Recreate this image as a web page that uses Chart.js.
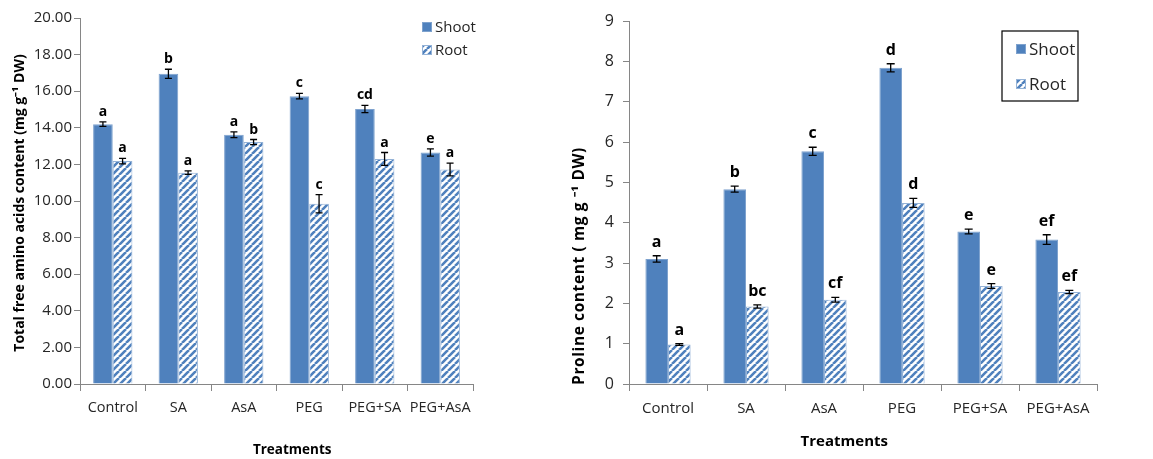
<!DOCTYPE html>
<html>
<head>
<meta charset="utf-8">
<script src="https://cdn.jsdelivr.net/npm/chart.js@4.4.1/dist/chart.umd.min.js"></script>
<style>
  html, body { margin: 0; padding: 0; background: #ffffff; }
  body { width: 1153px; height: 459px; position: relative; overflow: hidden; }
  .panel { position: absolute; top: 0; height: 459px; }
  #leftPanel { left: 0; width: 560px; }
  #rightPanel { left: 560px; width: 593px; }
</style>
</head>
<body>
<div class="panel" id="leftPanel"><canvas id="aminoChart"></canvas></div>
<div class="panel" id="rightPanel"><canvas id="prolineChart"></canvas></div>
<script>
// Treatments on the x axis
const categories = ['Control', 'SA', 'AsA', 'PEG', 'PEG+SA', 'PEG+AsA'];

// Total free amino acids (mg g-1 DW)
const aminoShoot = [14.20, 16.95, 13.62, 15.73, 15.03, 12.65];
const aminoShootErr = [0.12, 0.25, 0.16, 0.15, 0.20, 0.20];
const aminoRoot = [12.18, 11.55, 13.22, 9.85, 12.30, 11.72];
const aminoRootErr = [0.15, 0.10, 0.14, 0.50, 0.35, 0.35];
const aminoShootLetters = ['a', 'b', 'a', 'c', 'cd', 'e'];
const aminoRootLetters = ['a', 'a', 'b', 'c', 'a', 'a'];
const aminoTicks = { min: 0, max: 20, step: 2 };

// Proline content (mg g-1 DW)
const prolineShoot = [3.10, 4.83, 5.77, 7.84, 3.78, 3.58];
const prolineShootErr = [0.08, 0.075, 0.10, 0.10, 0.06, 0.12];
const prolineRoot = [0.98, 1.92, 2.09, 4.49, 2.43, 2.28];
const prolineRootErr = [0.02, 0.04, 0.06, 0.11, 0.06, 0.04];
const prolineShootLetters = ['a', 'b', 'c', 'd', 'e', 'ef'];
const prolineRootLetters = ['a', 'bc', 'cf', 'd', 'e', 'ef'];
const prolineTicks = { min: 0, max: 9, step: 1 };

const SHOOT_BLUE = '#4F81BD';
const AXIS_GREY = '#868686';
const TEXT_DARK = '#262626';

// white fill with "/" blue hatching for the root bars
function makeHatch() {
  const size = 7;
  const c = document.createElement('canvas');
  c.width = size; c.height = size;
  const g = c.getContext('2d');
  g.fillStyle = '#ffffff';
  g.fillRect(0, 0, size, size);
  g.strokeStyle = SHOOT_BLUE;
  g.lineWidth = 2.6;
  g.beginPath();
  for (let k = -1; k <= 1; k++) {
    g.moveTo(k * size, size);
    g.lineTo(k * size + size, 0);
  }
  g.stroke();
  return g.createPattern(c, 'repeat');
}
const hatch = makeHatch();

// error bars and significance letters above each bar
const errorLetterPlugin = {
  id: 'errorLetters',
  afterDatasetsDraw(chart, args, opts) {
    const ctx = chart.ctx;
    const yScale = chart.scales.y;
    ctx.save();
    chart.data.datasets.forEach((ds, di) => {
      const meta = chart.getDatasetMeta(di);
      const errs = opts.errors[di];
      const letters = opts.letters[di];
      meta.data.forEach((bar, i) => {
        const v = ds.data[i];
        const e = errs[i];
        const yTop = yScale.getPixelForValue(v + e);
        const yBot = yScale.getPixelForValue(v - e);
        const x = bar.x;
        const cap = opts.capHalf;
        ctx.strokeStyle = '#000000';
        ctx.lineWidth = 1.3;
        ctx.beginPath();
        ctx.moveTo(x, yTop); ctx.lineTo(x, yBot);
        ctx.moveTo(x - cap, yTop); ctx.lineTo(x + cap, yTop);
        ctx.moveTo(x - cap, yBot); ctx.lineTo(x + cap, yBot);
        ctx.stroke();
        ctx.fillStyle = '#000000';
        ctx.font = opts.font;
        ctx.textAlign = 'center';
        ctx.textBaseline = 'alphabetic';
        ctx.fillText(letters[i], x, yTop - opts.gap);
      });
    });
    ctx.restore();
  }
};

// legend swatches and axis titles
const decorPlugin = {
  id: 'decor',
  afterDraw(chart, args, opts) {
    const ctx = chart.ctx;
    const area = chart.chartArea;
    ctx.save();
    const lg = opts.legend;
    if (lg.box) {
      ctx.strokeStyle = '#000000';
      ctx.lineWidth = 1.2;
      ctx.strokeRect(lg.box[0], lg.box[1], lg.box[2], lg.box[3]);
    }
    chart.data.datasets.forEach((ds, di) => {
      const y = lg.y + di * lg.rowGap;
      const s = lg.swatch;
      ctx.fillStyle = ds.backgroundColor;
      ctx.fillRect(lg.x, y - s / 2, s, s);
      ctx.strokeStyle = ds.borderColor;
      ctx.lineWidth = 1;
      ctx.strokeRect(lg.x + 0.5, y - s / 2 + 0.5, s - 1, s - 1);
      ctx.fillStyle = TEXT_DARK;
      ctx.font = lg.font;
      ctx.textAlign = 'left';
      ctx.textBaseline = 'middle';
      ctx.fillText(ds.label, lg.x + s + 3, y + 1);
    });
    // x axis title
    ctx.fillStyle = '#000000';
    ctx.font = opts.xTitle.font;
    ctx.textAlign = 'center';
    ctx.textBaseline = 'middle';
    ctx.fillText(opts.xTitle.text, area.left + (area.right - area.left) * opts.xTitle.frac, opts.xTitle.y);
    // y axis title
    ctx.translate(opts.yTitle.x, opts.yTitle.y);
    ctx.rotate(-Math.PI / 2);
    ctx.font = opts.yTitle.font;
    if (opts.yTitle.spacing) ctx.letterSpacing = opts.yTitle.spacing;
    ctx.fillText(opts.yTitle.text, 0, 0);
    ctx.restore();
  }
};

function buildChart(canvasId, cfg) {
  return new Chart(document.getElementById(canvasId), {
    type: 'bar',
    data: {
      labels: categories,
      datasets: [
        { label: 'Shoot', data: cfg.shoot, backgroundColor: SHOOT_BLUE, borderColor: '#7EA2CE', borderWidth: 1,
          categoryPercentage: cfg.catPct, barPercentage: 1.0 },
        { label: 'Root', data: cfg.root, backgroundColor: hatch, borderColor: '#95B3D7', borderWidth: 1,
          categoryPercentage: cfg.catPct, barPercentage: 1.0 }
      ]
    },
    options: {
      responsive: true,
      maintainAspectRatio: false,
      animation: false,
      layout: { padding: cfg.padding },
      plugins: {
        legend: { display: false },
        tooltip: { enabled: false },
        errorLetters: cfg.errorLetters,
        decor: cfg.decor
      },
      scales: {
        x: {
          grid: { offset: true, drawOnChartArea: false, drawTicks: true, tickLength: 7, color: AXIS_GREY },
          border: { color: AXIS_GREY, width: 1 },
          ticks: { color: TEXT_DARK, font: cfg.xTickFont, padding: cfg.xTickPad, maxRotation: 0, autoSkip: false },
          afterFit(scale) { scale.height = cfg.xHeight; }
        },
        y: {
          min: cfg.ticks.min, max: cfg.ticks.max,
          grid: { drawOnChartArea: false, drawTicks: true, tickLength: 6, color: AXIS_GREY },
          border: { color: AXIS_GREY, width: 1 },
          ticks: { stepSize: cfg.ticks.step, color: TEXT_DARK, font: cfg.yTickFont, padding: cfg.yTickPad,
                   callback: cfg.yFormat },
          afterFit(scale) { scale.width = cfg.yWidth; }
        }
      }
    },
    plugins: [errorLetterPlugin, decorPlugin]
  });
}

buildChart('aminoChart', {
  shoot: aminoShoot, root: aminoRoot, ticks: aminoTicks, catPct: 0.6,
  padding: { left: 0, top: 18, right: 87, bottom: 0 },
  yWidth: 80, xHeight: 75,
  xTickFont: { family: 'Open Sans', size: 14.5 }, xTickPad: 8,
  yTickFont: { family: 'Open Sans', size: 15 }, yTickPad: 2,
  yFormat: v => Number(v).toFixed(2),
  errorLetters: {
    errors: [aminoShootErr, aminoRootErr],
    letters: [aminoShootLetters, aminoRootLetters],
    font: 'bold 14px "Open Sans"', gap: 6, capHalf: 3.5
  },
  decor: {
    legend: { x: 422, y: 27, rowGap: 23, swatch: 10, font: '15px "Open Sans"' },
    xTitle: { text: 'Treatments', font: 'bold 13.5px "Open Sans"', frac: 0.54, y: 450 },
    yTitle: { text: 'Total free amino acids content (mg g⁻¹ DW)', font: 'bold 14px "Open Sans"', x: 20, y: 203 }
  }
});

buildChart('prolineChart', {
  shoot: prolineShoot, root: prolineRoot, ticks: prolineTicks, catPct: 0.58,
  padding: { left: 0, top: 21, right: 56, bottom: 0 },
  yWidth: 69, xHeight: 75,
  xTickFont: { family: 'Open Sans', size: 15 }, xTickPad: 9,
  yTickFont: { family: 'Open Sans', size: 16 }, yTickPad: 9,
  yFormat: v => String(v),
  errorLetters: {
    errors: [prolineShootErr, prolineRootErr],
    letters: [prolineShootLetters, prolineRootLetters],
    font: 'bold 16px "Open Sans"', gap: 9, capHalf: 4
  },
  decor: {
    legend: { x: 456, y: 49, rowGap: 35, swatch: 10, box: [442, 31, 76, 70], font: '17px "Open Sans"' },
    xTitle: { text: 'Treatments', font: 'bold 15px "Open Sans"', frac: 0.46, y: 442 },
    yTitle: { text: 'Proline content ( mg g ⁻¹ DW)', font: 'bold 15.5px "Open Sans"', x: 20, y: 266, spacing: '0.6px' }
  }
});
</script>
</body>
</html>
